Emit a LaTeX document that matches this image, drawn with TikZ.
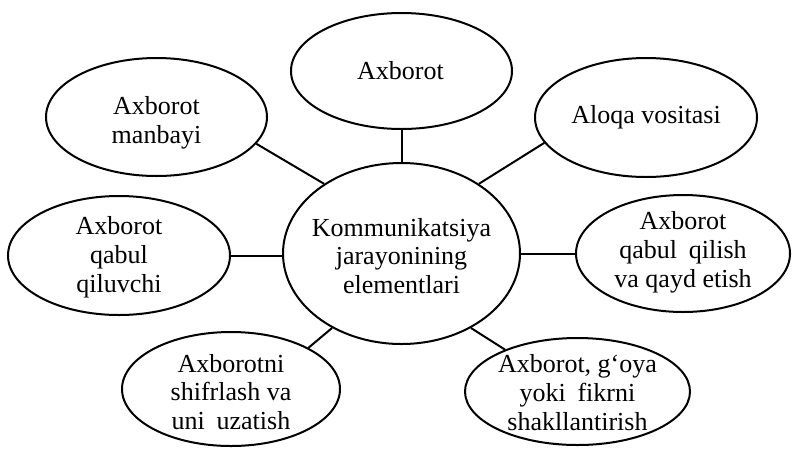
\documentclass[tikz,border=0pt]{standalone}
\usepackage{fontspec}
\setmainfont{Liberation Serif}
\usetikzlibrary{shapes.geometric}
\begin{document}
\begin{tikzpicture}[x=1pt,y=-1pt,
  oval/.style={draw, ellipse, line width=2pt, inner sep=0pt},
  txt/.style={align=center, inner sep=0pt, font=\fontsize{26}{28.8}\selectfont},
  link/.style={line width=2pt}]
\useasboundingbox (0,0) rectangle (792,448);
\node[oval, minimum width=237, minimum height=181] (c) at (401.5,253.5) {};
\node[txt] (ct) at (401.5,256) {Kommunikatsiya\\jarayonining\\elementlari};
\node[oval, minimum width=221, minimum height=116] (t) at (401.5,71) {};
\node[txt] (tt) at (400.5,71) {Axborot};
\node[oval, minimum width=221, minimum height=118] (ul) at (156.5,117) {};
\node[txt] (ult) at (156.5,123) {Axborot\\manbayi};
\node[oval, minimum width=222, minimum height=119] (ur) at (646,117.5) {};
\node[txt] (urt) at (646,117.5) {Aloqa vositasi};
\node[oval, minimum width=222, minimum height=119] (l) at (119,255.5) {};
\node[txt] (lt) at (119,257) {Axborot\\qabul\\qiluvchi};
\node[oval, minimum width=214, minimum height=117] (r) at (683,253.5) {};
\node[txt] (rt) at (683,252) {Axborot\\qabul\hspace{0.45em}qilish\\va qayd etish};
\node[oval, minimum width=218, minimum height=114] (ll) at (231,389) {};
\node[txt] (llt) at (231,392) {Axborotni\\shifrlash va\\uni\hspace{0.45em}uzatish};
\node[oval, minimum width=225, minimum height=107] (lr) at (577.5,391.5) {};
\node[txt] (lrt) at (577.5,392.5) {Axborot, g‘oya\\yoki\hspace{0.45em}fikrni\\shakllantirish};
\draw[link] (t.south) -- (c.north);
\draw[link] (ul.-15) -- (c.138);
\draw[link] (ur.194) -- (c.42.6);
\draw[link] (l.east) -- (c.west |- l.east);
\draw[link] (r.west) -- (c.east);
\draw[link] (ll.28.6) -- (c.227.8);
\draw[link] (lr.150.8) -- (c.313.8);
\end{tikzpicture}
\end{document}
